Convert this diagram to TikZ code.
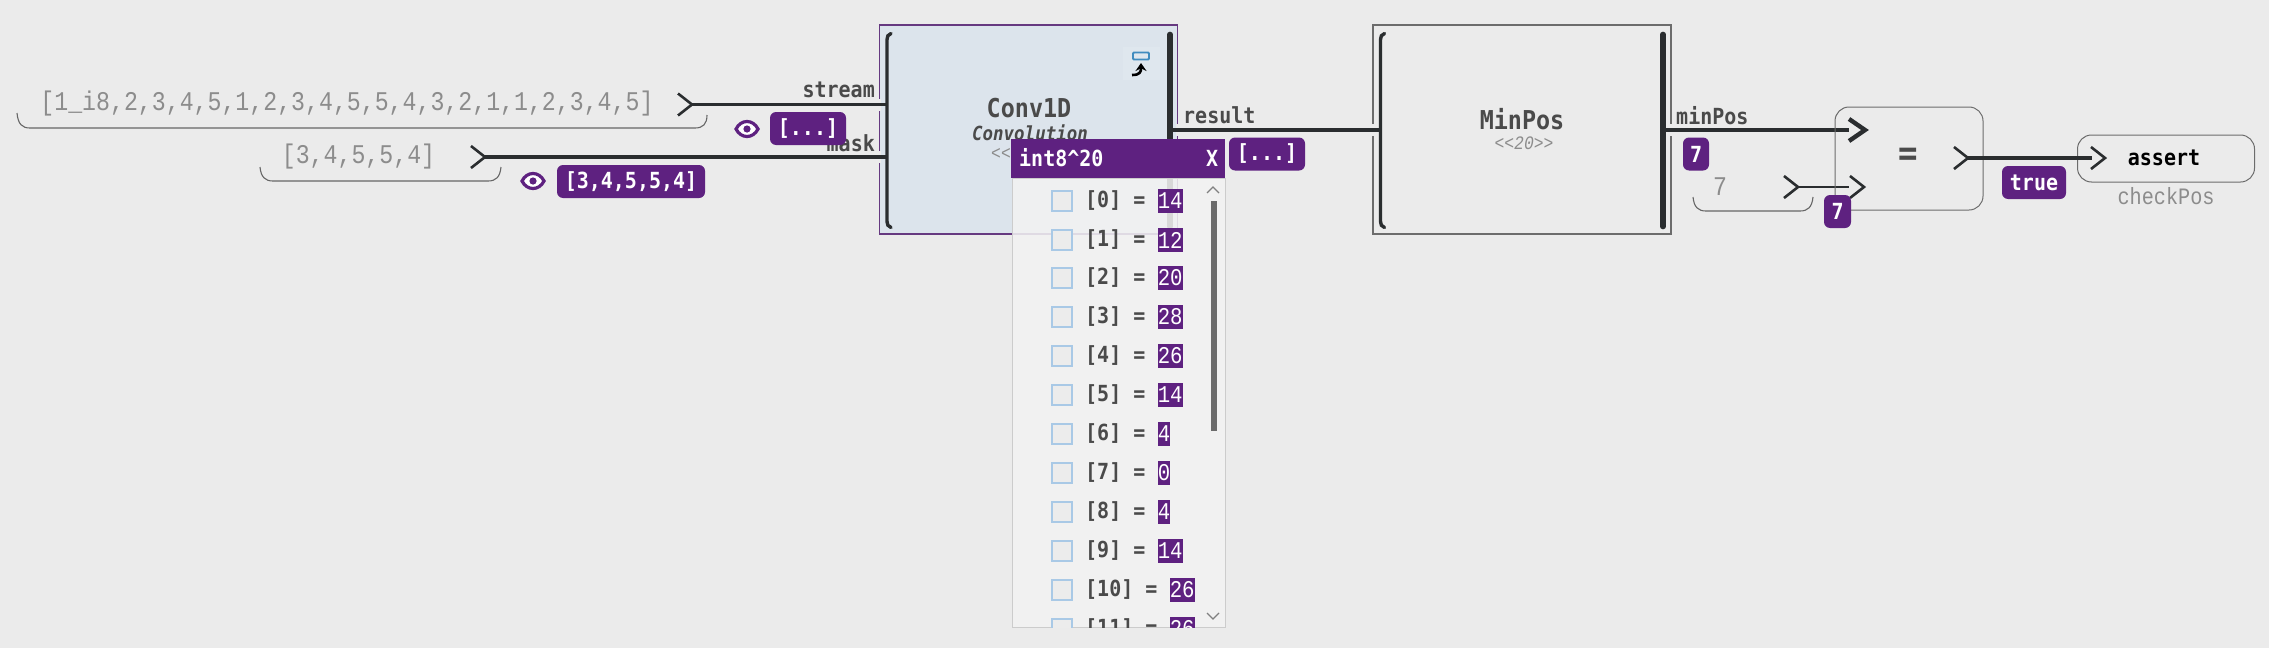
\documentclass[tikz,border=0pt]{standalone}
\usepackage{fontspec}
\usetikzlibrary{arrows.meta,positioning}
\newfontfamily\valfam[FakeStretch=0.86]{Liberation Mono}
\newfontfamily\monofam[FakeStretch=0.9]{DejaVu Sans Mono}
\definecolor{bgcol}{HTML}{EBEBEB}
\definecolor{purp}{HTML}{5E2180}
\definecolor{ink}{HTML}{2A2D2F}
\definecolor{txtgray}{HTML}{4A4A4A}
\definecolor{valgray}{HTML}{8C8C8C}
\definecolor{convfill}{HTML}{DCE4EC}
\definecolor{lightblue}{HTML}{A9C9E6}
\tikzset{
    every node/.style={inner sep=0pt},
    valtext/.style={text=valgray,font=\valfam\fontsize{27}{30}\selectfont},
    lbltext/.style={text=txtgray,font=\monofam\bfseries\fontsize{22.2}{24}\selectfont},
    nametext/.style={text=txtgray,font=\monofam\bfseries\fontsize{26}{28}\selectfont},
    subtext/.style={text=valgray,font=\valfam\itshape\fontsize{19}{24}\selectfont},
    badge/.style={fill=purp,rounded corners=6pt,text=white,font=\monofam\bfseries\fontsize{22.2}{24}\selectfont},
    funcbox/.style={draw=#1,line width=1.6pt,minimum width=298pt,minimum height=209pt},
    opbox/.style={draw=gray!85!black,line width=1pt,rounded corners=14pt},
    wire/.style={draw=ink,line width=3.4pt},
    thinwire/.style={draw=ink,line width=2.6pt},
    brace/.style={draw=gray!80!black,line width=1.1pt},
    chev/.pic={\draw[ink,line width=2.6pt] (-14,-11) -- (0,0) -- (-14,11);},
    boldchev/.pic={\draw[ink,line width=4.4pt] (-16,-11) -- (0,0) -- (-16,11);},
    lbar/.pic={\draw[ink,line width=3.4pt,line cap=round] (4,-97) .. controls (1,-96) and (0,-94) .. (0,-91) -- (0,91) .. controls (0,94) and (1,96) .. (4,97);},
    rbar/.pic={\draw[ink,line width=5.6pt,line cap=round] (0,-96) -- (0,96);},
    eyeicon/.pic={\draw[purp,line width=3.2pt,fill=white] (-11,0) .. controls (-6,-10) and (6,-10) .. (11,0) .. controls (6,10) and (-6,10) .. (-11,0) -- cycle;
        \fill[purp] (0,0) circle (3.6);},
}
\begin{document}
\begin{tikzpicture}[x=1pt,y=-1pt]
    \fill[bgcol] (0,0) rectangle (2269,648);
    \useasboundingbox (0,0) rectangle (2269,648);

    % inputs of Conv1D
    \node[valtext] (src1) at (347,104) {[1\_i8,2,3,4,5,1,2,3,4,5,5,4,3,2,1,1,2,3,4,5]};
    \node[valtext] (src2) at (358.5,157) {[3,4,5,5,4]};
    \draw[brace] (17,113) .. controls (18,124) and (22,128) .. (30,128) -- (695,128) .. controls (703,128) and (707,124) .. (707,115);
    \draw[brace] (260,167) .. controls (261,177) and (265,181) .. (273,181) -- (488,181) .. controls (496,181) and (500,177) .. (501,167);

    \node[funcbox=purp!75!gray,fill=convfill] (conv) at (1028.5,129.5) {};
    \node[funcbox=gray!85!black] (minpos) at (1522,129.5) {};

    % gaps in the box borders where the wires pass
    \foreach \gapx/\gapy in {879/104.5,879/157,1178/130,1373/130,1671/130}
        \fill[bgcol] (\gapx-2,\gapy-6) rectangle (\gapx+2,\gapy+6);

    \coordinate (src1out) at (692,104.5);
    \coordinate (src2out) at (485,157);
    \coordinate (convin1) at (887,104.5);
    \coordinate (convin2) at (887,157);
    \coordinate (convout) at (1170,130);
    \coordinate (minin) at (1380,130);
    \coordinate (minout) at (1663,130);
    \coordinate (eqin1) at (1865,130);
    \coordinate (eqin1end) at (1849,130);
    \coordinate (eqin2) at (1864,187);
    \coordinate (eqin2end) at (1849,187);
    \coordinate (constout) at (1798,187);
    \coordinate (eqout) at (1968,158);
    \coordinate (assertin) at (2105,158);
    \coordinate (assertend) at (2092,158);

    % stream and mask sit behind the badges
    \node[lbltext,anchor=east] (stream) at (875,90) {stream};
    \node[lbltext,anchor=east] (mask) at (875,143) {mask};
    \draw[wire] (src1out) -- (convin1);
    \draw[wire] (src2out) -- (convin2);
    \draw[wire] (convout) -- (minin);
    \draw[wire] (minout) -- (eqin1end);
    \draw[thinwire] (constout) -- (eqin2end);
    \pic at (src1out) {chev};
    \pic at (src2out) {chev};

    \pic at (887,130.5) {lbar};
    \pic at (1170,130.5) {rbar};
    \pic at (1380.5,130.5) {lbar};
    \pic at (1663,130.5) {rbar};

    % collapse icon
    \fill[convfill!90!white] (1123,47) rectangle (1160,80);
    \node[draw=blue!40!cyan!50!gray,line width=1.8pt,rounded corners=1pt,minimum width=16pt,minimum height=7pt] (collapse) at (1141,56) {};
    \draw[black,line width=2.6pt,-{Stealth[length=8pt,width=11pt]}] (1132,75) .. controls (1140,75) and (1141,72) .. (1141,63);

    \node[nametext] (convname) at (1029,108) {Conv1D};
    \node[text=txtgray,font=\monofam\bfseries\itshape\fontsize{19.4}{20}\selectfont] (convdesc) at (1030,133) {Convolution};
    \node[subtext,anchor=west] (convdim) at (991,153) {<<20>>};
    \node[nametext] (minname) at (1522,119) {MinPos};
    \node[subtext] (mindim) at (1524,143) {<<20>>};

    \node[lbltext,anchor=west] (result) at (1183,115) {result};
    \node[lbltext,anchor=west] (minposl) at (1676,116) {minPos};

    % badges
    \pic at (747,129) {eyeicon};
    \pic at (533,181) {eyeicon};
    \node[badge,minimum width=76pt,minimum height=33pt] (val1) at (808,128.5) {[...]};
    \node[badge,minimum width=148pt,minimum height=33pt] (val2) at (631,181.5) {[3,4,5,5,4]};
    \node[badge,minimum width=76pt,minimum height=33pt] (val3) at (1267,154) {[...]};
    \node[badge,minimum width=26pt,minimum height=33pt] (val4) at (1696,154) {7};

    % equals
    \node[opbox,minimum width=148pt,minimum height=103pt] (eq) at (1909,158.5) {};
    \node[text=txtgray,font=\monofam\bfseries\fontsize{36}{38}\selectfont] (eqsign) at (1908,157) {=};
    \node[valtext] (const7) at (1720,187) {7};
    \draw[brace] (1693,197) .. controls (1694,207) and (1698,211) .. (1706,211) -- (1800,211) .. controls (1808,211) and (1812,207) .. (1813,197);
    \pic at (constout) {chev};
    \pic at (eqin2) {chev};
    \pic at (eqin1) {boldchev};
    \node[badge,minimum width=27pt,minimum height=33pt] (val5) at (1837.5,211.5) {7};

    \node[opbox,minimum width=177pt,minimum height=47pt] (assertbox) at (2166,158.5) {};
    \node[text=black,font=\monofam\bfseries\fontsize{22.2}{24}\selectfont] (assertname) at (2164,158) {assert};
    \node[text=valgray,font=\valfam\fontsize{23.5}{26}\selectfont] (checkpos) at (2166,196) {checkPos};
    \draw[wire] (eqout) -- (assertend);
    \pic at (eqout) {chev};
    \pic at (assertin) {chev};
    \node[badge,minimum width=64pt,minimum height=33pt] (val6) at (2034,182.5) {true};

    % value popup
    \node[fill=white!95!black,fill opacity=.87,draw=gray!40,line width=1.4pt,anchor=north west,minimum width=213pt,minimum height=449pt] (popup) at (1012,178) {};
    \node[fill=purp,anchor=north west,minimum width=214pt,minimum height=39pt] (pophead) at (1011,139) {};
    \node[text=white,font=\monofam\bfseries\fontsize{22.2}{24}\selectfont,anchor=west] (poptitle) at (1019,158) {int8\string^20};
    \node[text=white,font=\monofam\bfseries\fontsize{22.2}{24}\selectfont] (popclose) at (1212,158) {X};
    \begin{scope}
        \clip (1012,178) rectangle (1225,627);
        \foreach \idx/\val/\rowy in {0/14/201,1/12/240,2/20/278,3/28/317,4/26/356,5/14/395,6/4/434,7/0/473,8/4/512,9/14/551,10/26/590,11/26/629} {
            \node[draw=lightblue,fill=gray!15,line width=1.2pt,minimum size=20pt] (box\idx) at (1062,\rowy) {};
            \node[lbltext,anchor=west] (lbl\idx) at (1085,\rowy) {[\idx] =};
            \node[fill=purp,text=white,font=\valfam\fontsize{24}{26}\selectfont,minimum height=24pt,anchor=west,xshift=12pt] (val\idx) at (lbl\idx.east |- box\idx) {\val};
        }
    \end{scope}
    \fill[black!58] (1211,201) rectangle (1217,431);
    \draw[gray,line width=1.2pt] (1207,193) -- (1213,187) -- (1219,193);
    \draw[gray,line width=1.2pt] (1207,613) -- (1213,619) -- (1219,613);
\end{tikzpicture}
\end{document}
